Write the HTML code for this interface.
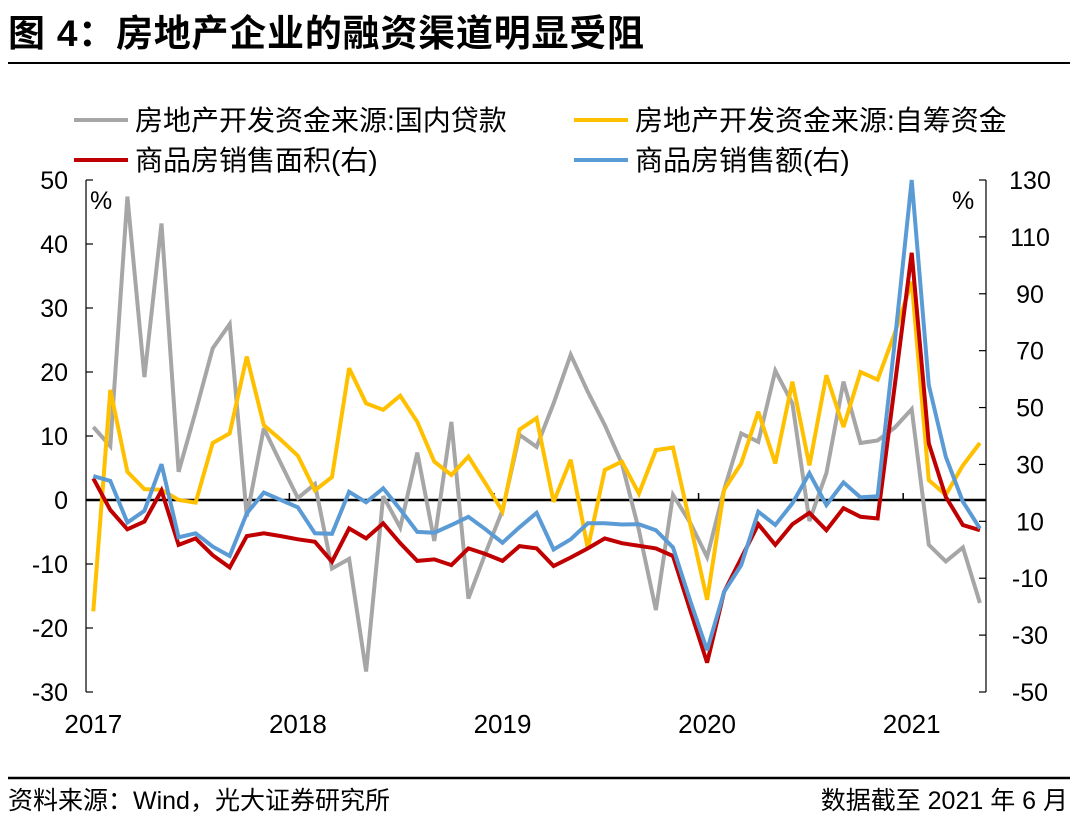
<!DOCTYPE html>
<html><head><meta charset="utf-8"><style>
body{margin:0;background:#fff;width:1080px;height:827px;overflow:hidden;font-family:"Liberation Sans","Noto Sans CJK SC",sans-serif}
svg{display:block}
text{font-family:"Liberation Sans","Noto Sans CJK SC",sans-serif;fill:#000}
</style></head><body>
<svg id="chart" width="1080" height="827">
<text x="8" y="46" font-size="37" font-weight="bold" textLength="636">图 4：房地产企业的融资渠道明显受阻</text>
<line x1="8" y1="63" x2="1070" y2="63" stroke="#000" stroke-width="2"/>
<g>
<line x1="74" y1="120" x2="128" y2="120" stroke="#a6a6a6" stroke-width="4"/>
<text x="135" y="130" font-size="28">房地产开发资金来源:国内贷款</text>
<line x1="574" y1="120" x2="628" y2="120" stroke="#ffc000" stroke-width="4"/>
<text x="635" y="130" font-size="28">房地产开发资金来源:自筹资金</text>
<line x1="74" y1="160" x2="128" y2="160" stroke="#c00000" stroke-width="4"/>
<text x="135" y="170" font-size="28">商品房销售面积(右)</text>
<line x1="574" y1="160" x2="628" y2="160" stroke="#5b9bd5" stroke-width="4"/>
<text x="635" y="170" font-size="28">商品房销售额(右)</text>
</g>
<g id="axes"></g>
<g id="series"></g>
<text x="90" y="209" font-size="25">%</text>
<text x="952" y="209" font-size="25">%</text>
<line x1="8" y1="778" x2="1070" y2="778" stroke="#000" stroke-width="2.5"/>
<text x="8" y="809" font-size="25">资料来源：Wind，光大证券研究所</text>
<text x="1068" y="809" font-size="25" text-anchor="end">数据截至 2021 年 6 月</text>
</svg>
<script>
const loans=[11.4,8.4,47.4,19.2,43.2,4.4,13.8,23.7,27.5,-2.6,11.2,5.7,0.3,2.5,-10.7,-9.2,-26.8,0.6,-4.3,7.4,-6.4,12.2,-15.4,-8.3,-1.6,10.2,8.3,15.1,22.7,16.9,11.7,5.7,-4.7,-17.2,0.8,-3.5,-8.9,1.6,10.4,9.1,20.2,15.1,-3.3,4.2,18.5,8.9,9.3,11.3,14.2,-7.0,-9.6,-7.4,-16.1];
const selfRaised=[-17.4,17.2,4.4,1.7,1.6,0,-0.4,8.9,10.4,22.4,11.7,9.4,6.9,1.5,3.6,20.6,15.1,14.1,16.3,12.2,6.0,3.9,6.8,2.6,-1.8,11.0,12.8,-0.3,6.3,-7.6,4.7,6.0,1.0,7.8,8.2,-3.6,-15.6,1.6,5.7,13.8,5.7,18.5,5.4,19.5,11.4,20.0,18.8,26.0,34.1,3.1,0.8,5.4,8.9];
const salesArea=[25.1,14.0,7.2,9.9,20.8,1.7,4.0,-1.9,-6.2,4.8,5.8,4.8,3.7,2.8,-4.2,7.5,4.0,9.3,2.3,-3.9,-3.4,-5.4,0.5,-1.5,-3.9,1.3,0.5,-5.7,-2.7,0.5,4.0,2.3,1.4,0.5,-2.2,-21.0,-39.7,-14.8,-3.0,9.0,1.7,9.0,13.0,6.9,14.6,11.6,11.0,57.3,104.4,37.4,18.6,8.7,6.9];
const salesAmount=[25.9,24.2,9.6,13.7,30.1,4.4,5.8,1.1,-2.2,12.8,20.1,17.5,14.9,5.8,5.6,20.4,16.7,21.6,14.2,6.3,6.0,8.7,11.6,7.2,2.5,7.9,13.0,0.1,3.7,9.3,9.3,8.9,9.0,6.9,0.8,-17.7,-35.3,-14.8,-5.4,13.4,8.7,16.3,26.9,15.7,23.7,18.4,18.8,72.6,133,57.9,32.7,16.9,7.5];
const leftTicks=[50,40,30,20,10,0,-10,-20,-30];
const rightTicks=[130,110,90,70,50,30,10,-10,-30,-50];
const years=["2017","2018","2019","2020","2021"];

const NS="http://www.w3.org/2000/svg";
const top_=180,bot=692,xl=86,xr=986;
const yL=v=>top_+(50-v)*(bot-top_)/80;
const yR=v=>top_+(130-v)*(bot-top_)/180;
const xI=i=>93.3+i*17.05;
function mk(tag,attrs,parent){const e=document.createElementNS(NS,tag);for(const k in attrs)e.setAttribute(k,attrs[k]);parent.appendChild(e);return e;}
const axes=document.getElementById('axes'),ser=document.getElementById('series');
let e;
e=mk('line',{x1:xl,y1:top_,x2:xl,y2:bot,stroke:'#000','stroke-width':1.2},axes);


e=mk('line',{x1:xr,y1:top_,x2:xr,y2:bot,stroke:'#000','stroke-width':1.2},axes);


leftTicks.forEach(v=>{
  mk('line',{x1:xl,y1:yL(v),x2:xl+7,y2:yL(v),stroke:'#000','stroke-width':1.2},axes);
  const t=mk('text',{x:68,y:yL(v)+9,'font-size':25,'text-anchor':'end'},axes);t.textContent=v;
  
  
});
rightTicks.forEach(v=>{
  mk('line',{x1:xr-7,y1:yR(v),x2:xr,y2:yR(v),stroke:'#000','stroke-width':1.2},axes);
  const t=mk('text',{x:1030,y:yR(v)+9,'font-size':25,'text-anchor':'middle'},axes);t.textContent=v;
  
  
});
e=mk('line',{x1:xl,y1:yL(0),x2:xr,y2:yL(0),stroke:'#000','stroke-width':2.5},axes);


years.forEach((y,k)=>{
  const tx=xI(12*k-0.5);
  if(k>0) mk('line',{x1:tx,y1:yL(0),x2:tx,y2:yL(0)-7,stroke:'#000','stroke-width':1.5},axes);
  const t=mk('text',{x:xI(12*k),y:733,'font-size':26,'text-anchor':'middle'},axes);t.textContent=y;
  
  
});
function line(data,yf,color,name){
  const pts=data.map((v,i)=>xI(i).toFixed(1)+','+Math.max(top_,yf(v)).toFixed(1)).join(' ');
  const p=mk('polyline',{points:pts,fill:'none',stroke:color,'stroke-width':4,'stroke-linejoin':'miter','stroke-miterlimit':3},ser);
  
  
}
line(loans,yL,'#a6a6a6','series-domestic-loans');
line(selfRaised,yL,'#ffc000','series-self-raised-funds');
line(salesArea,yR,'#c00000','series-sales-area');
line(salesAmount,yR,'#5b9bd5','series-sales-amount');
</script>
</body></html>
